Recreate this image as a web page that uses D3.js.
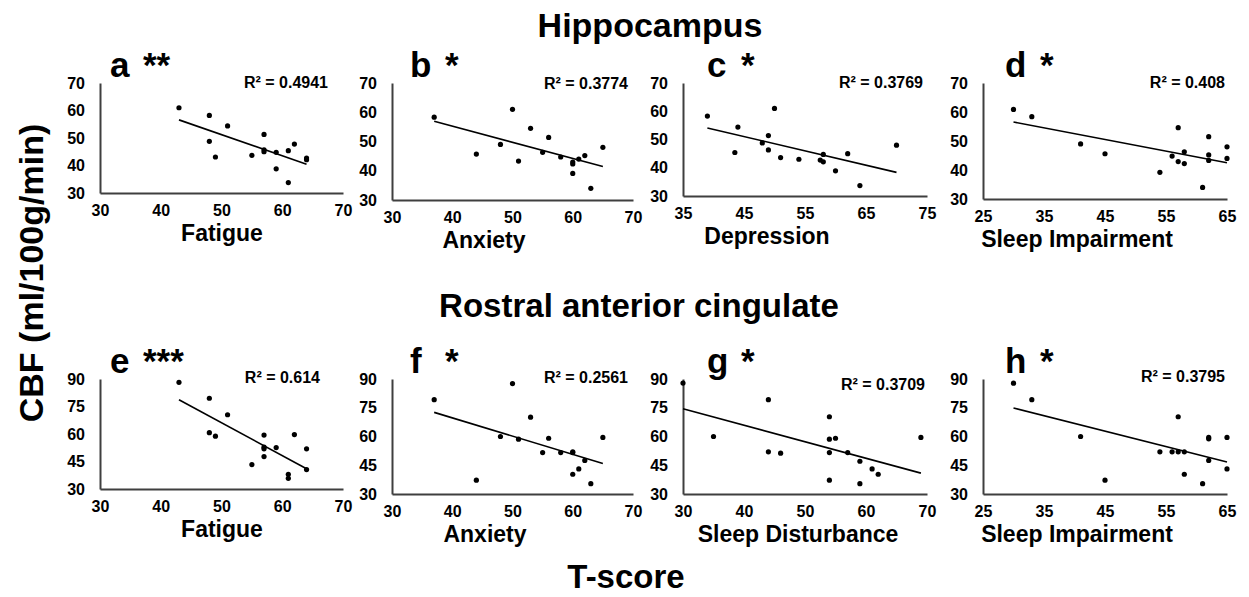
<!DOCTYPE html>
<html>
  <head>
    <meta charset="utf-8">
    <title>CBF vs T-score</title>
    <script type="text/javascript" src="https://cdn.jsdelivr.net/npm/d3@7"></script>
    <style>
      body { margin: 0; background: #fff; }
      text { font-family: Arial, "Liberation Sans", sans-serif; font-weight: bold; fill: #000; }
    </style>
  </head>
  <body>
    <script type="text/javascript">
      // values (T-score, CBF)
      var hipFatigueT = [43, 48, 51, 48, 49, 55, 57, 57, 57, 59, 59, 61, 62, 61, 64, 64];
      var hipFatigueCBF = [61, 58.2, 54.4, 48.8, 43.1, 43.7, 51.3, 45.7, 45, 44.8, 38.8, 45.4, 47.8, 33.8, 42.7, 42.1];
      var hipAnxietyT = [37, 44, 48, 50, 51, 53, 55, 56, 58, 60, 60, 60, 61, 62, 63, 65];
      var hipAnxietyCBF = [58.3, 45.7, 49, 61, 43.3, 54.5, 46.3, 51.4, 44.7, 43, 42.3, 39.1, 44, 45.2, 34, 48];
      var hipDepressionT = [39, 43.5, 44, 48, 49, 49, 50, 51, 54, 57.5, 58, 58, 60, 62, 64, 70];
      var hipDepressionCBF = [58.3, 45.4, 54.4, 48.8, 51.4, 46.3, 61, 43.6, 43, 42.7, 42.1, 44.7, 38.9, 45, 33.7, 48];
      var hipSleepT = [30, 33, 41, 45, 54, 56, 57, 57, 58, 58, 61, 62, 62, 62, 65, 65];
      var hipSleepCBF = [60.9, 58.4, 49, 45.6, 39.2, 44.8, 42.9, 54.6, 46.3, 42.2, 34, 51.5, 45.2, 43.3, 48, 44];

      var racFatigueT = [43, 48, 48, 49, 51, 55, 57, 57, 57, 57, 59, 61, 61, 62, 64, 64];
      var racFatigueCBF = [88.2, 79.5, 60.7, 58.8, 70.5, 43.3, 59.4, 52.8, 51.9, 47.7, 52.6, 38, 35.8, 59.7, 51.9, 40.6];
      var racAnxietyT = [37, 44, 48, 50, 51, 53, 55, 56, 58, 60, 60, 60, 61, 62, 63, 65];
      var racAnxietyCBF = [79.2, 37.2, 60, 87.6, 58.6, 70.1, 51.6, 59.1, 51.6, 51.6, 52, 40.3, 43.1, 47.5, 35.4, 59.5];
      var racDisturbT = [30, 35, 44, 44, 46, 54, 54, 55, 54, 54, 57, 59, 59, 61, 62, 69];
      var racDisturbCBF = [87.9, 60, 79.2, 52, 51.3, 70.3, 58.6, 59.1, 51.6, 37.2, 51.6, 47.1, 35.4, 43.1, 40.3, 59.5];
      var racSleepT = [30, 33, 41, 45, 54, 56, 57, 57, 58, 58, 61, 62, 62, 62, 65, 65];
      var racSleepCBF = [87.8, 79.2, 60, 37.2, 52, 52, 52, 70.3, 52, 40.3, 35.4, 58.8, 59.5, 47.5, 59.5, 43.1];

      var panelLetters = ["a", "b", "c", "d", "e", "f", "g", "h"];
      var panelStars = ["**", "*", "*", "*", "***", "*", "*", "*"];
      var xTitles = ["Fatigue", "Anxiety", "Depression", "Sleep Impairment",
                     "Fatigue", "Anxiety", "Sleep Disturbance", "Sleep Impairment"];
      var rSquared = ["0.4941", "0.3774", "0.3769", "0.408", "0.614", "0.2561", "0.3709", "0.3795"];
      var xTicksA = [30, 40, 50, 60, 70];
      var xTicksC = [35, 45, 55, 65, 75];
      var xTicksD = [25, 35, 45, 55, 65];
      var yTicksHip = [30, 40, 50, 60, 70];
      var yTicksRac = [30, 45, 60, 75, 90];
      var rowTitles = ["Hippocampus", "Rostral anterior cingulate"];

      var panels = [
        {x: hipFatigueT, y: hipFatigueCBF, xt: xTicksA, yt: yTicksHip},
        {x: hipAnxietyT, y: hipAnxietyCBF, xt: xTicksA, yt: yTicksHip},
        {x: hipDepressionT, y: hipDepressionCBF, xt: xTicksC, yt: yTicksHip},
        {x: hipSleepT, y: hipSleepCBF, xt: xTicksD, yt: yTicksHip},
        {x: racFatigueT, y: racFatigueCBF, xt: xTicksA, yt: yTicksRac},
        {x: racAnxietyT, y: racAnxietyCBF, xt: xTicksA, yt: yTicksRac},
        {x: racDisturbT, y: racDisturbCBF, xt: xTicksA, yt: yTicksRac},
        {x: racSleepT, y: racSleepCBF, xt: xTicksD, yt: yTicksRac}
      ];

      // layout (pixels)
      var w = 1249, h = 597;
      var colLeft = [100, 392, 683, 983];
      var colRight = [343, 633, 927, 1227];
      var colBottomTop = [193, 200, 196, 199];
      var colBottomBot = [489, 494, 494, 494];
      var rowTop = [83, 379];
      var letterDx = [10, 18, 24, 22];
      var starDx = [33, 35, 34, 35];
      var titleCx = [222, 484, 767, 1077, 222, 485, 798, 1077];
      var r2Right = [328, 628, 923, 1225, 320, 628, 925, 1225];
      var r2Base = [88, 89, 88, 88, 383, 383, 390, 382];

      var svg = d3.select("body").append("svg")
                  .attr("width", w)
                  .attr("height", h);

      function fit(xs, ys) {
        var mx = d3.mean(xs), my = d3.mean(ys);
        var sxy = 0, sxx = 0;
        for (var i = 0; i < xs.length; i++) {
          sxy += (xs[i] - mx) * (ys[i] - my);
          sxx += (xs[i] - mx) * (xs[i] - mx);
        }
        var b = sxy / sxx;
        return {b: b, a: my - b * mx};
      }

      panels.forEach(function(p, i) {
        var col = i % 4, row = Math.floor(i / 4);
        var left = colLeft[col], right = colRight[col];
        var top = rowTop[row];
        var bottom = row == 0 ? colBottomTop[col] : colBottomBot[col];

        var x = d3.scaleLinear()
                  .domain([p.xt[0], p.xt[p.xt.length - 1]])
                  .range([left, right]);
        var y = d3.scaleLinear()
                  .domain([p.yt[0], p.yt[p.yt.length - 1]])
                  .range([bottom, top]);

        var g = svg.append("g");

        // x axis
        var xa = g.append("g")
                  .attr("transform", "translate(0," + bottom + ")")
                  .call(d3.axisBottom(x).tickValues(p.xt).tickSize(0).tickPadding(12));
        xa.select(".domain").attr("stroke", "#3f3f3f").attr("stroke-width", 2);
        xa.selectAll("text").style("font-size", "16px").attr("fill", "#000");

        // y axis
        var ya = g.append("g")
                  .attr("transform", "translate(" + left + ",0)")
                  .call(d3.axisLeft(y).tickValues(p.yt).tickSize(0).tickPadding(15));
        ya.select(".domain").attr("stroke", "#3f3f3f").attr("stroke-width", 2);
        ya.selectAll("text").style("font-size", "16px").attr("fill", "#000");

        // points
        g.selectAll("circle")
         .data(p.x)
         .enter()
         .append("circle")
         .attr("cx", function(d) { return x(d); })
         .attr("cy", function(d, j) { return y(p.y[j]); })
         .attr("r", 2.6)
         .attr("fill", "#000");

        // trend line
        var f = fit(p.x, p.y);
        var x0 = d3.min(p.x), x1 = d3.max(p.x);
        g.append("line")
         .attr("x1", x(x0)).attr("y1", y(f.a + f.b * x0))
         .attr("x2", x(x1)).attr("y2", y(f.a + f.b * x1))
         .attr("stroke", "#000")
         .attr("stroke-width", 1.6);

        // R squared
        g.append("text")
         .attr("x", r2Right[i])
         .attr("y", r2Base[i])
         .attr("text-anchor", "end")
         .style("font-size", "16px")
         .text("R\u00B2 = " + rSquared[i]);

        // panel letter
        var lt = g.append("text")
                  .attr("x", left + letterDx[col])
                  .attr("y", top - 6)
                  .style("font-size", "35px");
        lt.append("tspan").text(panelLetters[i]);
        lt.append("tspan")
          .attr("x", left + letterDx[col] + starDx[col])
          .text(panelStars[i]);

        // x title
        g.append("text")
         .attr("x", titleCx[i])
         .attr("y", bottom + 48)
         .attr("text-anchor", "middle")
         .style("font-size", "23px")
         .text(xTitles[i]);
      });

      // row titles
      svg.append("text")
         .attr("x", 650).attr("y", 37)
         .attr("text-anchor", "middle")
         .style("font-size", "34px")
         .text(rowTitles[0]);
      svg.append("text")
         .attr("x", 639).attr("y", 317)
         .attr("text-anchor", "middle")
         .style("font-size", "33px")
         .text(rowTitles[1]);

      // axis titles
      svg.append("text")
         .attr("transform", "translate(43,273) rotate(-90)")
         .attr("text-anchor", "middle")
         .style("font-size", "34px")
         .text("CBF (ml/100g/min)");
      svg.append("text")
         .attr("x", 626).attr("y", 588)
         .attr("text-anchor", "middle")
         .style("font-size", "33px")
         .text("T-score");
    </script>
  </body>
</html>
